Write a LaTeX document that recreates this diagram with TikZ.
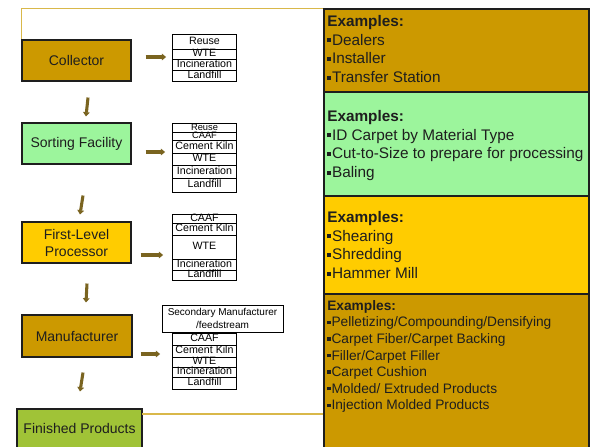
\documentclass[tikz,border=0pt]{standalone}
\usepackage{fontspec}
\setmainfont{Liberation Sans}
\usetikzlibrary{calc,arrows.meta}
\definecolor{gold}{HTML}{CC9900}
\definecolor{mint}{HTML}{9CF59C}
\definecolor{sun}{HTML}{FFCC00}
\definecolor{olive}{HTML}{A0C337}
\definecolor{frameline}{HTML}{D9B84A}
\definecolor{arrowc}{HTML}{7A6420}
\definecolor{ink}{HTML}{1E1E1E}
\newcommand\bul{\raisebox{0.2em}{\rule{0.26em}{0.26em}}\hspace{0.05em}}
\tikzset{
  stage/.style={draw=ink, line width=0.8pt, minimum width=81.75pt, minimum height=30.75pt,
    align=center, text=ink, font=\fontsize{10.5}{12.75}\selectfont, inner sep=0pt},
  panel/.style={draw=ink, line width=0.8pt, minimum width=198.75pt, inner sep=0pt},
  ptext/.style={anchor=north west, align=left, inner sep=0pt, text=ink,
    font=\fontsize{11.5}{14.1}\selectfont},
  ptextsmall/.style={anchor=north west, align=left, inner sep=0pt, text=ink,
    font=\fontsize{10.3}{12.45}\selectfont},
  cell/.style={draw=black, fill=white, line width=0.6pt, inner sep=0pt, minimum width=48pt,
    font=\fontsize{8}{8}\selectfont, text height=5.4pt, text depth=1.2pt},
  cellsmall/.style={cell, font=\fontsize{7}{7}\selectfont, text height=4.6pt, text depth=0.8pt},
  arr/.style={draw=arrowc, line width=2.3pt, -{Triangle[length=3.2pt,width=5pt]}},
  frame/.style={draw=frameline, line width=0.9pt}
}
\begin{document}
\begin{tikzpicture}[x=0.75pt,y=-0.75pt]
\useasboundingbox[fill=white] (0,0) rectangle (602,446);

% right panels
\node[panel, fill=gold, minimum height=62.25pt] (p1) at (456.5,50.5) {};
\node[panel, fill=mint, minimum height=78pt] (p2) at (456.5,144) {};
\node[panel, fill=sun, minimum height=73.5pt] (p3) at (456.5,245) {};
\node[panel, fill=gold, minimum height=115.5pt] (p4) at (456.5,371) {};

\node[ptext] (p1t) at (327,15) {\textbf{Examples:}\\\bul Dealers\\\bul Installer\\\bul Transfer Station};
\node[ptext] (p2t) at (327,110) {\textbf{Examples:}\\\bul ID Carpet by Material Type\\\bul Cut-to-Size to prepare for processing\\\bul Baling};
\node[ptext] (p3t) at (327,211) {\textbf{Examples:}\\\bul Shearing\\\bul Shredding\\\bul Hammer Mill};
\node[ptextsmall] (p4t) at (327,300) {\textbf{Examples:}\\\bul Pelletizing/Compounding/Densifying\\\bul Carpet Fiber/Carpet Backing\\\bul Filler/Carpet Filler\\\bul Carpet Cushion\\\bul Molded/ Extruded Products\\\bul Injection Molded Products};

% left stages
\node[stage, fill=gold] (col) at (76.5,60.5) {Collector};
\node[stage, fill=mint] (sort) at (76.5,143.5) {Sorting Facility};
\node[stage, fill=sun] (flp) at (76.5,242.5) {First-Level\\Processor};
\node[stage, fill=gold, minimum width=82.5pt, minimum height=31.5pt] (man) at (77,336) {Manufacturer};
\node[stage, fill=olive, minimum width=93.75pt, minimum height=29.25pt] (fin) at (79.5,428.5) {Finished Products};

% frame lines
\draw[frame] (col.north west) -- (col.north west |- p1.north) -- (p1.north west);
\coordinate (fl) at (142,414);
\draw[frame] (fl) -- (p4.west |- fl);

% table 1
\node[cell, minimum height=11.25pt] (t1a) at (204.5,41.5) {Reuse};
\node[cell, minimum height=7.5pt] (t1b) at (204.5,54) {WTE};
\node[cell, minimum height=8.25pt] (t1c) at (204.5,64.5) {Incineration};
\node[cell, minimum height=8.25pt] (t1d) at (204.5,75.5) {Landfill};

% table 2
\node[cellsmall, minimum height=6.75pt] (t2a) at (204.5,127.5) {Reuse};
\node[cellsmall, minimum height=6pt] (t2b) at (204.5,136) {CAAF};
\node[cell, minimum height=9.75pt] (t2c) at (204.5,146.5) {Cement Kiln};
\node[cell, minimum height=9pt] (t2d) at (204.5,159) {WTE};
\node[cell, minimum height=9.75pt] (t2e) at (204.5,171.5) {Incineration};
\node[cell, minimum height=10.5pt] (t2f) at (204.5,185) {Landfill};

% table 3
\node[cell, minimum height=6pt] (t3a) at (204.5,219) {CAAF};
\node[cell, minimum height=9pt] (t3b) at (204.5,229) {Cement Kiln};
\node[cell, minimum height=18pt] (t3c) at (204.5,247) {WTE};
\node[cell, minimum height=8.25pt] (t3d) at (204.5,264.5) {Incineration};
\node[cell, minimum height=7.5pt] (t3e) at (204.5,275) {Landfill};

% table 4
\node[cell, minimum height=9pt] (t4a) at (204.5,339) {CAAF};
\node[cell, minimum height=9pt] (t4b) at (204.5,351) {Cement Kiln};
\node[cell, minimum height=7.5pt] (t4c) at (204.5,362) {WTE};
\node[cell, minimum height=7.5pt] (t4d) at (204.5,372) {Incineration};
\node[cell, minimum height=9pt] (t4e) at (204.5,383) {Landfill};
\node[cell, minimum width=90.75pt, minimum height=20.25pt, align=center, text height=, text depth=,
  font=\fontsize{7.5}{9.5}\selectfont] (t4s) at (222.5,318.5) {Secondary Manufacturer\\/feedstream};

% vertical arrows
\draw[arr] ($(col.south)+(11.5,16)$) -- ($(sort.north)+(9.5,-6)$);
\draw[arr] ($(sort.south)+(6.5,31)$) -- ($(flp.north)+(3.5,-7)$);
\draw[arr] ($(flp.south)+(10.5,20)$) -- ($(man.north)+(9,-12)$);
\draw[arr] ($(man.south)+(6,15)$) -- ($(fin.north)+(0.5,-17)$);

% horizontal arrows
\draw[arr] ($(col.east)+(14,-3.5)$) -- ($(t1b.west)+(-6,3)$);
\draw[arr] ($(sort.east)+(14,8.5)$) -- ($(t2c.west)+(-7,5.5)$);
\draw[arr] ($(flp.east)+(9,12.5)$) -- ($(t3c.west)+(-9,8)$);
\draw[arr] ($(man.east)+(8,18)$) -- ($(t4b.west)+(-12,3)$);
\end{tikzpicture}
\end{document}
